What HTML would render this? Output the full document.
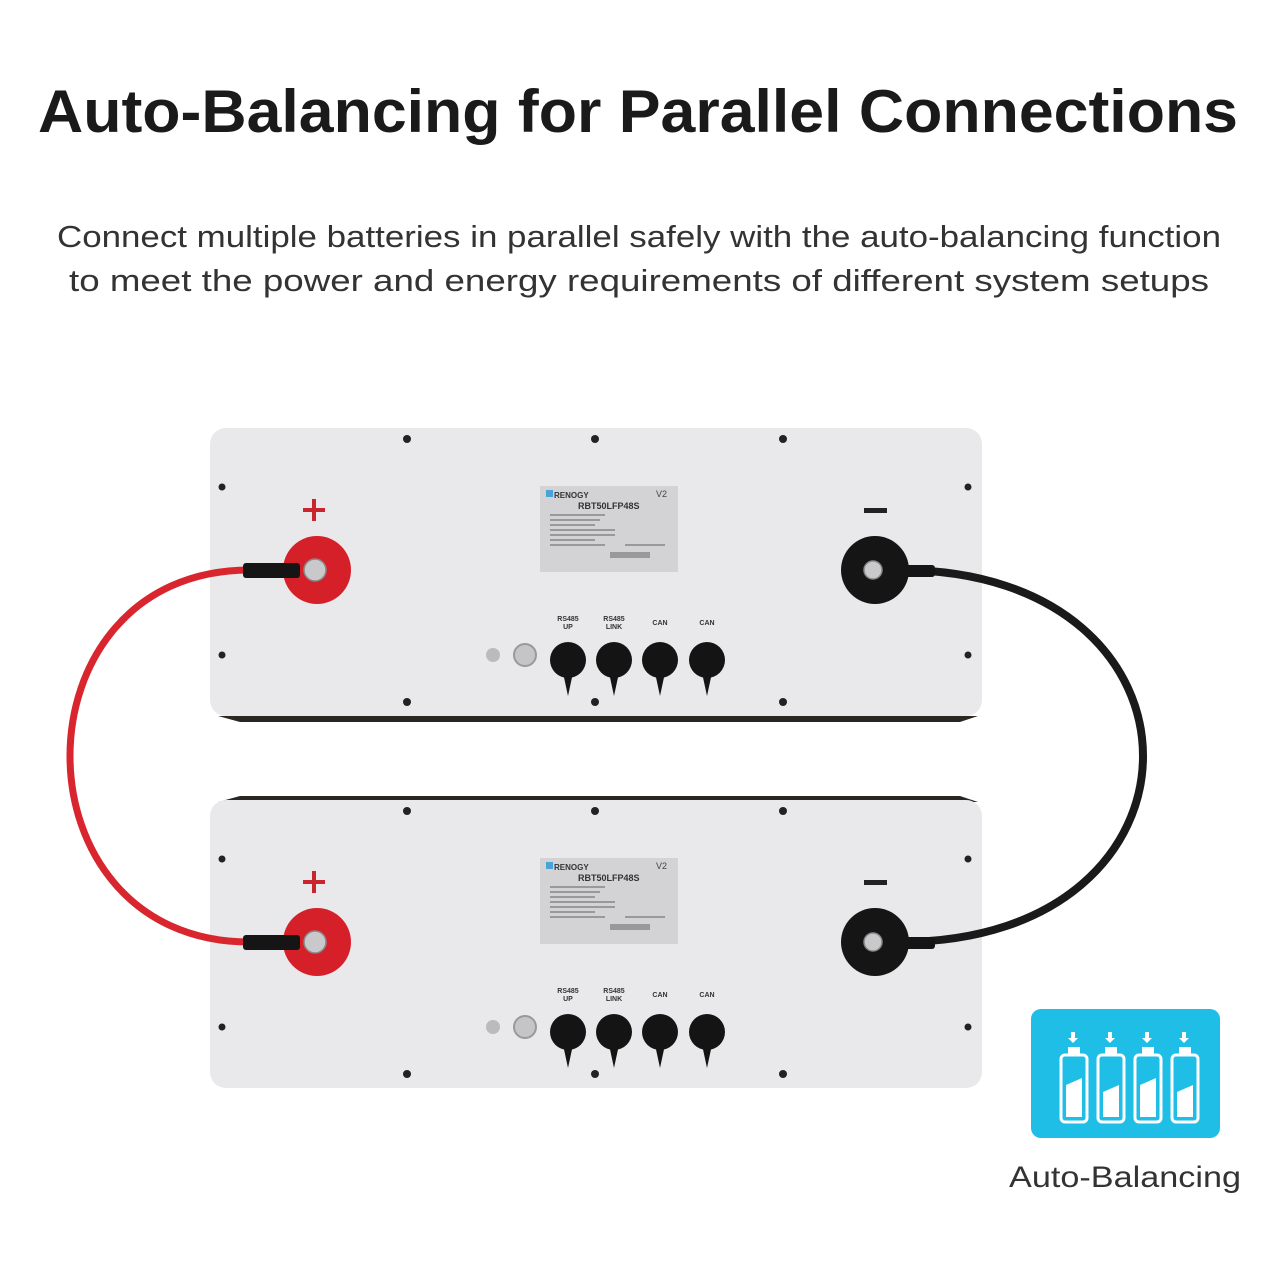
<!DOCTYPE html>
<html><head><meta charset="utf-8"><style>
html,body{margin:0;padding:0;background:#fff;width:1280px;height:1280px;overflow:hidden}
</style></head><body>
<svg width="1280" height="1280" viewBox="0 0 1280 1280" xmlns="http://www.w3.org/2000/svg" font-family="Liberation Sans, sans-serif">
<text x="638" y="132" text-anchor="middle" font-size="60" font-weight="bold" fill="#1a1a1a" textLength="1200" lengthAdjust="spacingAndGlyphs">Auto-Balancing for Parallel Connections</text>
<text x="639" y="247" text-anchor="middle" font-size="31" fill="#333" textLength="1164" lengthAdjust="spacingAndGlyphs">Connect multiple batteries in parallel safely with the auto-balancing function</text>
<text x="639" y="291" text-anchor="middle" font-size="31" fill="#333" textLength="1140" lengthAdjust="spacingAndGlyphs">to meet the power and energy requirements of different system setups</text>

<defs>
<g id="bat">
  <rect x="0" y="0" width="772" height="288" rx="16" fill="#e9e9ec"/>
  <g fill="#222">
    <circle cx="197" cy="11" r="4"/><circle cx="385" cy="11" r="4"/><circle cx="573" cy="11" r="4"/>
    <circle cx="197" cy="274" r="4"/><circle cx="385" cy="274" r="4"/><circle cx="573" cy="274" r="4"/>
    <circle cx="12" cy="59" r="3.5"/><circle cx="758" cy="59" r="3.5"/>
    <circle cx="12" cy="227" r="3.5"/><circle cx="758" cy="227" r="3.5"/>
  </g>
  <rect x="93" y="80" width="22" height="4" fill="#c8262c"/><rect x="102" y="71" width="4" height="22" fill="#c8262c"/>
  <rect x="654" y="80" width="23" height="5" fill="#222"/>
  <rect x="330" y="58" width="138" height="86" fill="#d3d3d5"/>
  <rect x="336" y="62" width="7" height="7" fill="#4aa3d8"/>
  <text x="344" y="70" font-size="8" font-weight="bold" fill="#333">RENOGY</text>
  <text x="446" y="69" font-size="9" fill="#444">V2</text>
  <text x="368" y="81" font-size="9" font-weight="bold" fill="#333">RBT50LFP48S</text>
  <g fill="#999"><rect x="340" y="86" width="55" height="2"/><rect x="340" y="91" width="50" height="2"/><rect x="340" y="96" width="45" height="2"/><rect x="340" y="101" width="65" height="2"/><rect x="340" y="106" width="65" height="2"/><rect x="340" y="111" width="45" height="2"/><rect x="340" y="116" width="55" height="2"/><rect x="415" y="116" width="40" height="2"/><rect x="400" y="124" width="40" height="6"/></g>
  <circle cx="283" cy="227" r="7" fill="#bbb"/><circle cx="315" cy="227" r="11" fill="#c5c5c8" stroke="#999" stroke-width="2"/>
  <g fill="#141414">
    <circle cx="358" cy="232" r="18"/><path d="M352 240h12l-6 28z"/>
    <circle cx="404" cy="232" r="18"/><path d="M398 240h12l-6 28z"/>
    <circle cx="450" cy="232" r="18"/><path d="M444 240h12l-6 28z"/>
    <circle cx="497" cy="232" r="18"/><path d="M491 240h12l-6 28z"/>
  </g>
  <g font-size="7" font-weight="bold" fill="#333" text-anchor="middle">
    <text x="358" y="193">RS485</text><text x="358" y="201">UP</text>
    <text x="404" y="193">RS485</text><text x="404" y="201">LINK</text>
    <text x="450" y="197">CAN</text><text x="497" y="197">CAN</text>
  </g>
  <circle cx="107" cy="142" r="34" fill="#d5202a"/>
  <circle cx="665" cy="142" r="34" fill="#151515"/>
</g>
</defs>
<path d="M218 716 H978 L960 722 H240 Z" fill="#2a2624"/>
<path d="M240 796 H960 L978 802 H218 Z" fill="#2a2624"/>
<use href="#bat" x="210" y="428"/>
<use href="#bat" x="210" y="800"/>

<path d="M250 570 C10 570 10 942 250 942" fill="none" stroke="#d8252e" stroke-width="7" stroke-linecap="round"/>
<path d="M900 570 C1224 570 1224 942 900 942" fill="none" stroke="#1a1a1a" stroke-width="8" stroke-linecap="round"/>
<g fill="#151515"><rect x="243" y="563" width="57" height="15" rx="3"/><rect x="243" y="935" width="57" height="15" rx="3"/>
<rect x="890" y="565" width="45" height="12" rx="3"/><rect x="890" y="937" width="45" height="12" rx="3"/></g>
<g fill="#c9c9cc" stroke="#888" stroke-width="1.5">
<circle cx="315" cy="570" r="11"/><circle cx="315" cy="942" r="11"/><circle cx="873" cy="570" r="9"/><circle cx="873" cy="942" r="9"/></g>

<rect x="1031" y="1009" width="189" height="129" rx="10" fill="#1ebee7"/>
<g fill="none" stroke="#fff" stroke-width="3">
  <rect x="1061" y="1055" width="26" height="67" rx="4"/><rect x="1098" y="1055" width="26" height="67" rx="4"/>
  <rect x="1135" y="1055" width="26" height="67" rx="4"/><rect x="1172" y="1055" width="26" height="67" rx="4"/>
</g>
<g fill="#fff">
  <rect x="1068" y="1047" width="12" height="8"/><rect x="1105" y="1047" width="12" height="8"/><rect x="1142" y="1047" width="12" height="8"/><rect x="1179" y="1047" width="12" height="8"/>
  <path d="M1066 1085 L1082 1078 V1117 H1066Z"/><path d="M1103 1092 L1119 1085 V1117 H1103Z"/>
  <path d="M1140 1085 L1156 1078 V1117 H1140Z"/><path d="M1177 1092 L1193 1085 V1117 H1177Z"/>
  <path d="M1071 1032h4v6h3l-5 5-5-5h3z"/><path d="M1108 1032h4v6h3l-5 5-5-5h3z"/><path d="M1145 1032h4v6h3l-5 5-5-5h3z"/><path d="M1182 1032h4v6h3l-5 5-5-5h3z"/>
</g>
<text x="1125" y="1187" text-anchor="middle" font-size="30" fill="#333" textLength="232" lengthAdjust="spacingAndGlyphs">Auto-Balancing</text>
</svg>
</body></html>
